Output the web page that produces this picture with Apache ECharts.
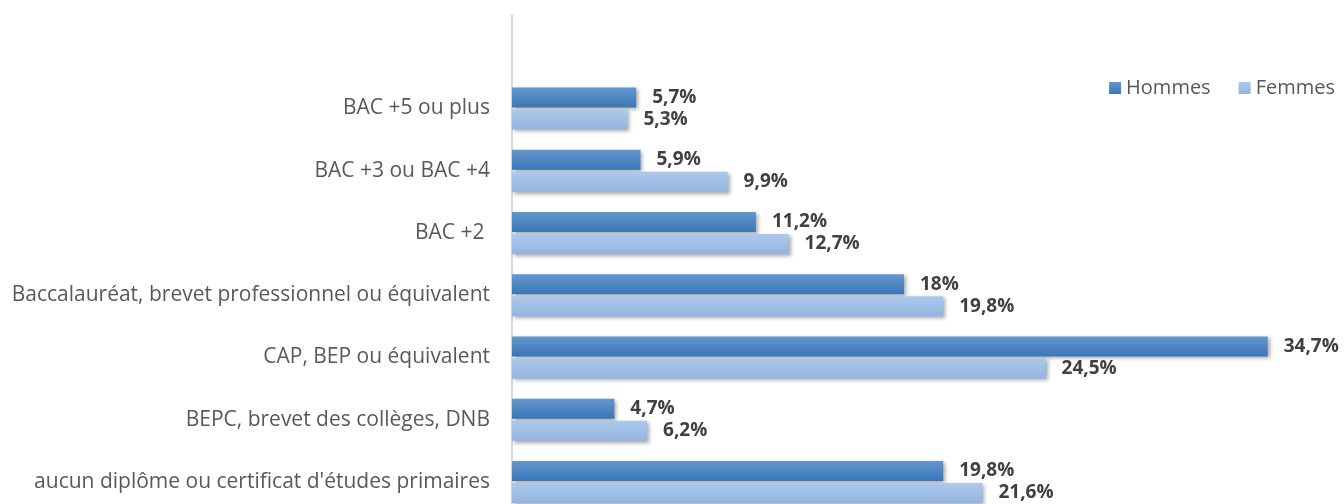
<!DOCTYPE html>
<html>
<head>
<meta charset="utf-8">
<script src="https://cdn.jsdelivr.net/npm/echarts@6/dist/echarts.min.js"></script>
<style>
html, body { margin: 0; padding: 0; background: #fff; overflow: hidden; }
#chart { width: 1344px; height: 520px; }
</style>
</head>
<body>
<div id="chart"></div>
<script>
// niveaux de diplôme, du haut vers le bas (la première case reste vide)
var categories = ['', 'BAC +5 ou plus', 'BAC +3 ou BAC +4', 'BAC +2 ',
  'Baccalauréat, brevet professionnel ou équivalent', 'CAP, BEP ou équivalent',
  'BEPC, brevet des collèges, DNB', "aucun diplôme ou certificat d'études primaires"];
var hommes = [null, 5.7, 5.9, 11.2, 18, 34.7, 4.7, 19.8];
var femmes = [null, 5.3, 9.9, 12.7, 19.8, 24.5, 6.2, 21.6];

var chart = echarts.init(document.getElementById('chart'));

function fmt(p) {
  return String(p.value).replace('.', ',') + '%';
}

var labelStyle = {
  show: true,
  position: 'right',
  distance: 16,
  formatter: fmt,
  color: '#404040',
  fontSize: 19,
  fontWeight: 'bold',
  fontFamily: 'Open Sans'
};

chart.setOption({
  animation: false,
  legend: {
    data: ['Hommes', 'Femmes'],
    right: 4,
    top: 73,
    itemWidth: 12,
    itemHeight: 12,
    itemGap: 28,
    icon: 'rect',
    textStyle: { color: '#595959', fontSize: 20, fontFamily: 'Open Sans' }
  },
  grid: { left: 512, top: 15, height: 498, right: 48 },
  xAxis: {
    type: 'value',
    min: 0,
    max: 36,
    show: false
  },
  yAxis: {
    type: 'category',
    inverse: true,
    data: categories,
    axisTick: { show: false },
    axisLine: { show: true, lineStyle: { color: '#d9d9d9', width: 2 } },
    axisLabel: { color: '#595959', fontSize: 21, fontFamily: 'Open Sans', margin: 22 }
  },
  series: [
    {
      name: 'Hommes',
      type: 'bar',
      data: hommes,
      barWidth: 20,
      barGap: '10%',
      label: labelStyle,
      itemStyle: {
        color: new echarts.graphic.LinearGradient(0, 0, 0, 1, [
          { offset: 0, color: '#6497cf' },
          { offset: 1, color: '#3a76b6' }
        ]),
        shadowColor: 'rgba(0,0,0,0.35)',
        shadowBlur: 4,
        shadowOffsetX: 2,
        shadowOffsetY: 2
      }
    },
    {
      name: 'Femmes',
      type: 'bar',
      data: femmes,
      barWidth: 20,
      barGap: '10%',
      label: labelStyle,
      itemStyle: {
        color: new echarts.graphic.LinearGradient(0, 0, 0, 1, [
          { offset: 0, color: '#adc9ec' },
          { offset: 1, color: '#93b5e0' }
        ]),
        shadowColor: 'rgba(0,0,0,0.35)',
        shadowBlur: 4,
        shadowOffsetX: 2,
        shadowOffsetY: 2
      }
    }
  ]
});
</script>
</body>
</html>
